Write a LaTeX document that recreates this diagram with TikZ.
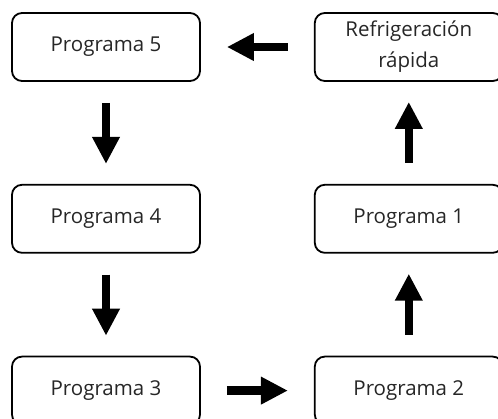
\documentclass[tikz,border=0pt]{standalone}
\usepackage{fontspec}
\setmainfont{Open Sans}
\usepackage{tikz}
\usetikzlibrary{positioning,arrows.meta}

\begin{document}
\begin{tikzpicture}[
  node distance=102pt and 113pt,
  box/.style={rectangle, draw, line width=1.8pt, rounded corners=10pt, align=center, text=black!85, font=\fontsize{20.5}{31}\selectfont, minimum width=188pt, minimum height=68pt, inner sep=0pt},
  arrow/.style={-{Triangle[length=27pt,width=26pt]}, line width=8.5pt}
]
  \useasboundingbox (0,0) rectangle (498pt,-419pt);

  \node[box] (prog5) at (106pt,-47pt) {Programa 5};
  \node[box, right=of prog5] (cool) {Refrigeración\\rápida};
  \node[box, below=of prog5] (prog4) {Programa 4};
  \node[box, below=of prog4] (prog3) {Programa 3};
  \node[box, below=of cool] (prog1) {Programa 1};
  \node[box, below=of prog1] (prog2) {Programa 2};

  \draw[arrow, shorten <=26pt, shorten >=26pt] (prog3) -- (prog2);
  \draw[arrow, shorten <=21pt, shorten >=20pt] (prog2) -- (prog1);
  \draw[arrow, shorten <=21pt, shorten >=20pt] (prog1) -- (cool);
  \draw[arrow, shorten <=26pt, shorten >=26pt] (cool) -- (prog5);
  \draw[arrow, shorten <=21pt, shorten >=20pt] (prog5) -- (prog4);
  \draw[arrow, shorten <=21pt, shorten >=20pt] (prog4) -- (prog3);
\end{tikzpicture}
\end{document}
